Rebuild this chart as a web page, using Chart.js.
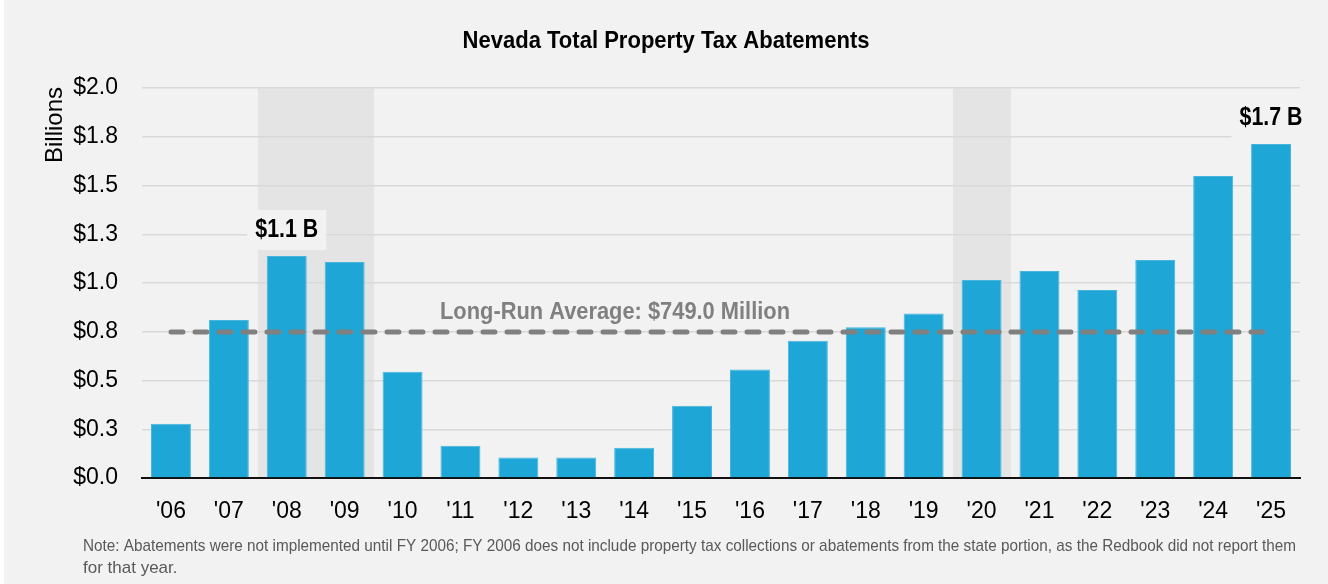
<!DOCTYPE html>
<html>
<head>
<meta charset="utf-8">
<script src="https://cdn.jsdelivr.net/npm/chart.js@4.4.1/dist/chart.umd.min.js"></script>
<style>
  html, body { margin: 0; padding: 0; background: #ffffff; }
  #wrap { width: 1328px; height: 584px; }
</style>
</head>
<body>
<div id="wrap"><canvas id="abatementChart"></canvas></div>
<script>
const years = ["'06", "'07", "'08", "'09", "'10", "'11", "'12", "'13", "'14", "'15",
               "'16", "'17", "'18", "'19", "'20", "'21", "'22", "'23", "'24", "'25"];
// billions
const abatements = [0.278, 0.810, 1.139, 1.108, 0.545, 0.165, 0.105, 0.105, 0.155, 0.371,
                    0.556, 0.704, 0.773, 0.843, 1.015, 1.062, 0.964, 1.118, 1.549, 1.713];
const longRunAverage = 0.749;
const recessionYears = ["'08", "'09", "'20"];
const labeledYears = ["'08", "'25"];
const yTicks = [0, 0.25, 0.5, 0.75, 1.0, 1.25, 1.5, 1.75, 2.0];

const FONT = '"Liberation Sans Narrow", "Arial Narrow", "Liberation Sans", sans-serif';

const decorPlugin = {
    id: 'decor',
    beforeDraw(chart) {
        const ctx = chart.ctx;
        const area = chart.chartArea;
        const x = chart.scales.x;
        ctx.save();
        ctx.fillStyle = '#ffffff';
        ctx.fillRect(0, 0, chart.width, chart.height);
        ctx.fillStyle = '#f2f2f2';
        ctx.fillRect(4, 0, chart.width - 4, chart.height);

        // shaded years
        const step = (area.right - area.left) / years.length;
        ctx.fillStyle = '#e4e4e4';
        recessionYears.forEach(y => {
            const cx = x.getPixelForValue(years.indexOf(y));
            const l = Math.round(cx - step / 2);
            const r = Math.round(cx + step / 2);
            ctx.fillRect(l, area.top, r - l, area.bottom - area.top);
        });
        ctx.restore();
    },
    afterDatasetsDraw(chart) {
        const ctx = chart.ctx;
        const x = chart.scales.x;
        const y = chart.scales.y;
        ctx.save();

        // average label
        ctx.font = 'bold 24px ' + FONT;
        ctx.fillStyle = '#808080';
        ctx.textAlign = 'center';
        ctx.textBaseline = 'middle';
        ctx.fillText('Long-Run Average: $' + (longRunAverage * 1000).toFixed(1) + ' Million', 615, y.getPixelForValue(longRunAverage) - 20, 350);

        // value labels
        labeledYears.forEach(yr => {
            const i = years.indexOf(yr);
            const v = abatements[i];
            const cx = x.getPixelForValue(i);
            const cy = y.getPixelForValue(v) - 26;
            const txt = '$' + v.toFixed(1) + ' B';
            ctx.font = 'bold 25px ' + FONT;
            const w = Math.min(ctx.measureText(txt).width, 63);
            ctx.fillStyle = '#f2f2f2';
            ctx.fillRect(cx - w / 2 - 8, cy - 20, w + 16, 40);
            ctx.fillStyle = '#000000';
            ctx.fillText(txt, cx, cy, 63);
        });
        ctx.restore();
    },
    afterDraw(chart) {
        const ctx = chart.ctx;
        const area = chart.chartArea;
        ctx.save();
        ctx.fillStyle = '#000000';
        ctx.font = 'bold 24px ' + FONT;
        ctx.textAlign = 'center';
        ctx.textBaseline = 'middle';
        ctx.fillText('Nevada Total Property Tax Abatements', 666, 41, 407);

        // y-axis title
        ctx.save();
        ctx.translate(55, area.top - 1);
        ctx.rotate(-Math.PI / 2);
        ctx.font = '24px ' + FONT;
        ctx.textAlign = 'right';
        ctx.fillText('Billions', 0, 0, 77);
        ctx.restore();

        ctx.fillStyle = '#595959';
        ctx.font = '17px ' + FONT;
        ctx.textAlign = 'left';
        ctx.fillText('Note: Abatements were not implemented until FY 2006; FY 2006 does not include property tax collections or abatements from the state portion, as the Redbook did not report them', 83, 546, 1213);
        ctx.fillText('for that year.', 83, 568, 95);
        ctx.restore();
    }
};

const ctx = document.getElementById('abatementChart').getContext('2d');
new Chart(ctx, {
    data: {
        labels: years,
        datasets: [
            {
                type: 'line',
                label: 'Long-Run Average',
                data: years.map(() => longRunAverage),
                borderColor: '#808080',
                borderWidth: 5,
                borderDash: [12, 12],
                borderCapStyle: 'round',
                pointRadius: 0,
                order: 0
            },
            {
                type: 'bar',
                label: 'Total Property Tax Abatements',
                data: abatements,
                backgroundColor: '#1ea6d7',
                borderColor: '#48b5dd',
                borderWidth: 1,
                barPercentage: 0.69,
                categoryPercentage: 1.0,
                order: 1
            }
        ]
    },
    options: {
        responsive: true,
        maintainAspectRatio: false,
        animation: false,
        layout: { padding: { top: 88, right: 28, bottom: 0, left: 0 } },
        plugins: {
            legend: { display: false },
            tooltip: { enabled: false },
            title: { display: false }
        },
        scales: {
            x: {
                grid: { display: false, drawTicks: false },
                border: { display: true, color: '#111111', width: 2 },
                ticks: {
                    color: '#000000',
                    font: { family: FONT, size: 23 },
                    padding: 20,
                    maxRotation: 0,
                    autoSkip: false
                },
                afterFit: scale => { scale.height = 106; }
            },
            y: {
                min: 0,
                max: 2.0,
                afterBuildTicks: scale => { scale.ticks = yTicks.map(v => ({ value: v })); },
                grid: { color: '#d9d9d9', lineWidth: 1.5, drawTicks: false },
                border: { display: false },
                ticks: {
                    color: '#000000',
                    font: { family: FONT, size: 23 },
                    padding: 24,
                    callback: v => '$' + Number(v).toFixed(1)
                },
                afterFit: scale => { scale.width = 142; }
            }
        }
    },
    plugins: [decorPlugin]
});
</script>
</body>
</html>
